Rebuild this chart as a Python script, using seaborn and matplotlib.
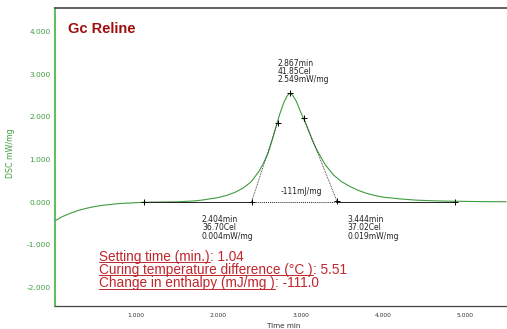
import matplotlib
matplotlib.use("Agg")
import matplotlib.pyplot as plt
from matplotlib.lines import Line2D
import seaborn as sns
import pandas as pd

# ---- data ----
time_min = [0.02, 0.10, 0.20, 0.30, 0.40, 0.50, 0.60, 0.70, 0.80, 0.90, 1.00, 1.10,
            1.30, 1.50, 1.70, 1.80, 1.90, 2.00, 2.10, 2.20, 2.30, 2.40, 2.50, 2.55,
            2.60, 2.65, 2.70, 2.75, 2.80, 2.84, 2.867, 2.90, 2.95, 3.00, 3.05, 3.10,
            3.15, 3.20, 3.30, 3.40, 3.50, 3.60, 3.70, 3.80, 3.90, 4.00, 4.20, 4.40,
            4.60, 4.80, 5.00, 5.20, 5.50]
dsc_mw_mg = [-0.43, -0.34, -0.26, -0.19, -0.14, -0.10, -0.07, -0.05, -0.03, -0.02, -0.01, 0.00,
             0.005, 0.01, 0.03, 0.05, 0.08, 0.11, 0.16, 0.23, 0.33, 0.48, 0.74, 0.92,
             1.12, 1.42, 1.76, 2.08, 2.35, 2.50, 2.549, 2.52, 2.36, 2.12, 1.90, 1.66,
             1.42, 1.22, 0.88, 0.64, 0.48, 0.37, 0.28, 0.21, 0.16, 0.12, 0.08, 0.05,
             0.035, 0.025, 0.02, 0.015, 0.012]

baseline_x = [1.10, 4.88]
baseline_y = [0.0, 0.0]
onset = (2.404, 0.004)
endset = (3.444, 0.019)
left_infl = (2.72, 1.86)
right_infl = (3.04, 1.97)
peak = (2.867, 2.549)

peak_lines = ["2.867min", "41.85Cel", "2.549mW/mg"]
onset_lines = ["2.404min", "36.70Cel", "0.004mW/mg"]
endset_lines = ["3.444min", "37.02Cel", "0.019mW/mg"]
enthalpy_label = "-111mJ/mg"

summary_labels = ["Setting time (min.)", "Curing temperature difference (°C )", "Change in enthalpy (mJ/mg )"]
summary_values = ["1.04", "5.51", "-111.0"]

x_ticks = [1, 2, 3, 4, 5]
y_ticks = [-2, -1, 0, 1, 2, 3, 4]

# ---- style ----
sns.set_style("white")
plt.rcParams['font.family'] = ['DejaVu Sans']

GREEN = "#3f9c3f"
SPINE_GREEN = "#66bb66"
DARK = "#333333"
RED = "#c0262c"
TITLE_RED = "#a00d0d"

W, H = 507, 329
fig = plt.figure(figsize=(W / 100, H / 100), dpi=100)
ax = fig.add_axes([55 / W, 1 - 306 / H, 1 - 55 / W, (306 - 8) / H])

df = pd.DataFrame({"Time": time_min, "DSC": dsc_mw_mg})
sns.lineplot(data=df, x="Time", y="DSC", ax=ax, color=GREEN, lw=0.8, zorder=3)

# baseline / construction lines
ax.plot([baseline_x[0], onset[0]], [0, 0], color="#222222", lw=0.7, zorder=4)
ax.plot([onset[0], endset[0]], [0, 0], color="#222222", lw=0.7, ls=(0, (1, 1)), zorder=4)
ax.plot([endset[0], baseline_x[1]], [0, 0], color="#222222", lw=0.7, zorder=4)
ax.plot([onset[0], left_infl[0]], [onset[1], left_infl[1]], color="#222222", lw=0.6,
        ls=(0, (1, 1)), zorder=4)
ax.plot([right_infl[0], endset[0]], [right_infl[1], endset[1]], color="#222222", lw=0.6,
        ls=(0, (1, 1)), zorder=4)
mx = [baseline_x[0], onset[0], left_infl[0], peak[0], right_infl[0], endset[0], baseline_x[1]]
my = [baseline_y[0], onset[1], left_infl[1], peak[1], right_infl[1], endset[1], baseline_y[1]]
ax.plot(mx, my, ls="none", marker="+", color="black", ms=5, mew=0.7, zorder=5)

ax.set_xlim(0.015, 5.51)
ax.set_ylim(-2.43, 4.55)
ax.set_xticks(x_ticks)
ax.set_xticklabels([f"{v:.3f}" for v in x_ticks], fontsize=4.3, color=DARK)
ax.set_yticks(y_ticks)
ax.set_yticklabels([f"{v:.3f}" for v in y_ticks], fontsize=5.4, color=GREEN)
ax.tick_params(axis="y", direction="in", length=4, width=0.9, color=GREEN, pad=3)
ax.tick_params(axis="x", direction="in", length=3, width=0.7, color=DARK, pad=5)
ax.set_xlabel("Time min", fontsize=5.2, color=DARK)
ax.xaxis.set_label_coords((284 - 55) / (W - 55), (306 - 323) / 298)
ax.set_ylabel("DSC mW/mg", fontsize=5.7, color=GREEN)
ax.yaxis.set_label_coords((15 - 55) / (W - 55), (306 - 153) / 298)

ax.spines["right"].set_visible(False)
ax.spines["left"].set_color(SPINE_GREEN)
ax.spines["left"].set_linewidth(1.5)
ax.spines["top"].set_color("#555555")
ax.spines["top"].set_linewidth(1.3)
ax.spines["bottom"].set_color("#444444")
ax.spines["bottom"].set_linewidth(0.9)

# ---- annotations ----
def px_to_fig(px, py):
    return px / W, 1 - py / H

fig.text(*px_to_fig(68, 29), "Gc Reline", fontsize=10.5, fontweight="bold",
         color=TITLE_RED, family="Liberation Sans", va="center", ha="left")

small_kw = dict(fontsize=5.5, color="#222222", va="center", ha="left")
for i, s in enumerate(peak_lines):
    fig.text(*px_to_fig(278, 63 + 8.5 * i), s, **small_kw)
for i, s in enumerate(onset_lines):
    fig.text(*px_to_fig(202, 219.5 + 8.4 * i), s, **small_kw)
for i, s in enumerate(endset_lines):
    fig.text(*px_to_fig(347, 219.5 + 8.4 * i), s, **small_kw)
fig.text(*px_to_fig(281, 191.5), enthalpy_label, **small_kw)

renderer = fig.canvas.get_renderer()
red_kw = dict(fontsize=9.8, color=RED, family="Liberation Sans", va="center", ha="left")
for i, (lab, val) in enumerate(zip(summary_labels, summary_values)):
    x0, y0 = px_to_fig(99, 256.7 + 13.3 * i)
    t = fig.text(x0, y0, lab, **red_kw)
    bb = t.get_window_extent(renderer)
    fig.text(bb.x1 / W, y0, ": " + val, **red_kw)
    uy = (bb.y0 + 1.6) / H
    fig.add_artist(Line2D([bb.x0 / W, bb.x1 / W], [uy, uy], color=RED, lw=0.7,
                          transform=fig.transFigure))

fig.savefig("out.png", dpi=100)
